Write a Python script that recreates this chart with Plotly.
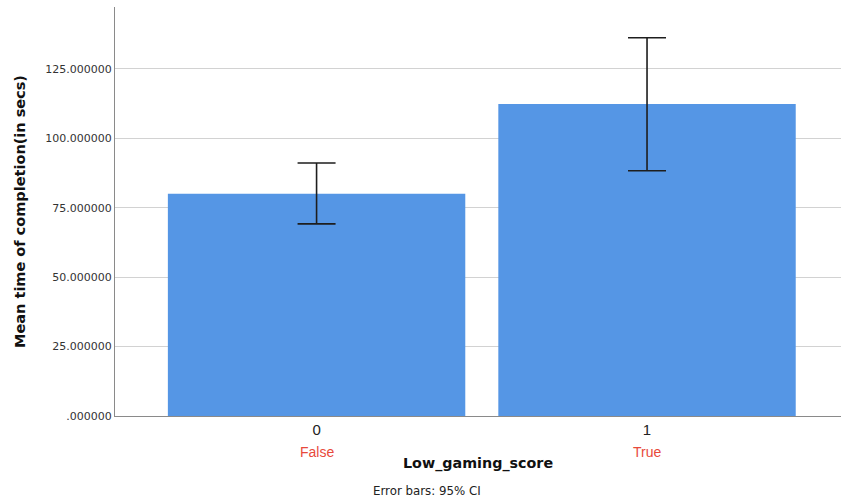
import plotly.graph_objects as go

# Mean completion time by gaming-score group, with 95% CI bounds
groups = [0, 1]
group_codes = ["0", "1"]
group_labels = ["False", "True"]
mean_time = [80.0, 112.4]
ci_upper = [91.1, 136.2]
ci_lower = [69.2, 88.3]

y_ticks = [0, 25, 50, 75, 100, 125]
y_tick_text = [".000000", "25.000000", "50.000000", "75.000000", "100.000000", "125.000000"]

err_plus = [u - m for u, m in zip(ci_upper, mean_time)]
err_minus = [m - l for m, l in zip(mean_time, ci_lower)]

fig = go.Figure()
fig.add_trace(go.Bar(
    x=groups,
    y=mean_time,
    width=0.9,
    marker=dict(color="#5596e5", line=dict(width=0)),
    error_y=dict(type="data", symmetric=False, array=err_plus, arrayminus=err_minus,
                 color="#1e1e1e", thickness=1.6, width=19),
    hoverinfo="skip",
))

# category labels under the tick codes
for g, lab in zip(groups, group_labels):
    fig.add_annotation(x=g, y=0, xref="x", yref="y", yshift=-36, text=lab,
                       showarrow=False, yanchor="middle",
                       font=dict(family="Liberation Sans, Arial, sans-serif", size=14, color="#e8493b"))

fig.add_annotation(x=0.5, y=0, xref="paper", yref="paper", yshift=-47, text="<b>Low_gaming_score</b>",
                   showarrow=False, yanchor="middle",
                   font=dict(family="DejaVu Sans, sans-serif", size=14.3, color="#111111"))
fig.add_annotation(x=(427 - 115) / (841 - 115), y=0, xref="paper", yref="paper", yshift=-75,
                   text="Error bars: 95% CI", showarrow=False, yanchor="middle",
                   font=dict(family="DejaVu Sans, sans-serif", size=11.8, color="#222222"))

fig.update_layout(
    width=841, height=504,
    margin=dict(l=115, r=0, t=7, b=88),
    paper_bgcolor="white", plot_bgcolor="white",
    showlegend=False,
    bargap=0.1,
    xaxis=dict(
        range=[-0.61, 1.587],
        tickvals=groups, ticktext=group_codes,
        tickfont=dict(family="Liberation Sans, Arial, sans-serif", size=15, color="#222222"),
        ticks="", showgrid=False, zeroline=False,
        showline=True, linecolor="#8a8a8a", linewidth=1.3,
    ),
    yaxis=dict(
        range=[0, 147.3],
        tickvals=y_ticks, ticktext=y_tick_text,
        tickfont=dict(family="DejaVu Sans, sans-serif", size=11, color="#333333"),
        ticks="", ticklen=0,
        showgrid=True, gridcolor="#d2d2d2", gridwidth=1,
        zeroline=False,
        showline=True, linecolor="#8a8a8a", linewidth=1.3,
        title=dict(text="<b>Mean time of completion(in secs)</b>", standoff=16,
                   font=dict(family="DejaVu Sans, sans-serif", size=14.5, color="#111111")),
    ),
)

fig.write_html("out.html")
